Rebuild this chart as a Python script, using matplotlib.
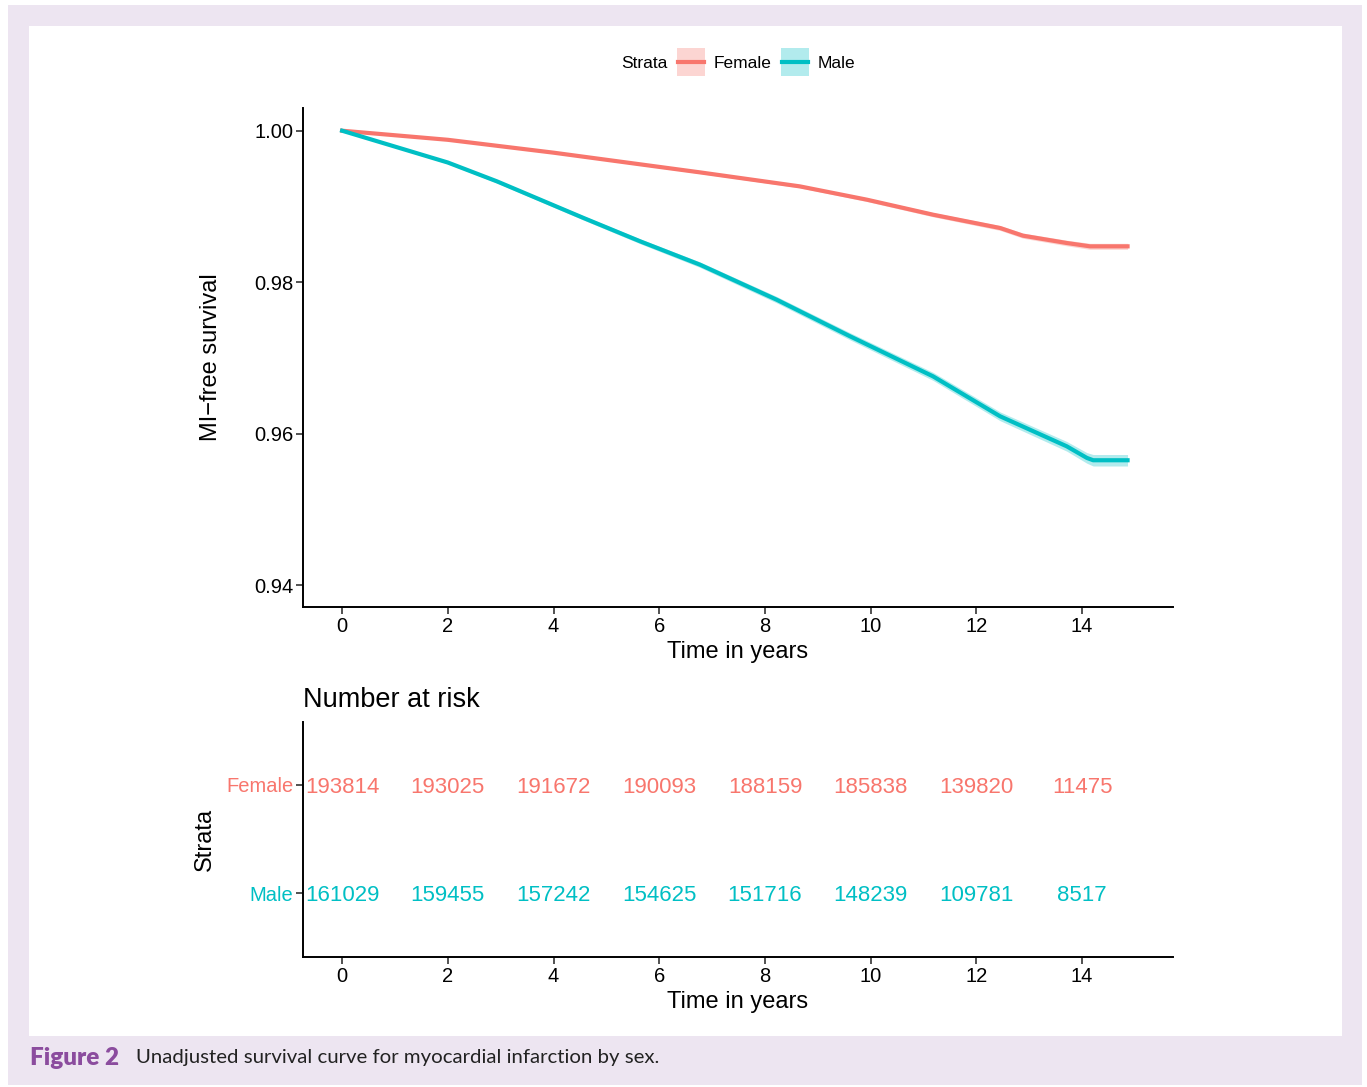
import matplotlib
matplotlib.use('Agg')
import matplotlib.pyplot as plt
from matplotlib.patches import Rectangle
from matplotlib.lines import Line2D

plt.rcParams['font.family'] = ['Liberation Sans', 'DejaVu Sans']

# survival estimates
female_t = [0, 2, 4, 6.77, 8.66, 9.93, 11.18, 12.45, 12.88, 13.71, 14.15, 14.86]
female_s = [1.0, 0.9988, 0.9971, 0.9945, 0.99265, 0.99089, 0.98891, 0.98715, 0.98614, 0.98517, 0.98473, 0.98473]
female_ci = [0.0, 0.00006, 0.0001, 0.00016, 0.0002, 0.00024, 0.00028, 0.00032, 0.00034, 0.00037, 0.0004, 0.0004]

male_t = [0, 1, 2, 2.93, 4.57, 5.64, 6.77, 8.22, 9.61, 11.18, 12.45, 13.71, 14.09, 14.21, 14.86]
male_s = [1.0, 0.9979, 0.9958, 0.99331, 0.98847, 0.98539, 0.98231, 0.97769, 0.97285, 0.96756, 0.96228, 0.95832, 0.95679, 0.95648, 0.95648]
male_ci = [0.0, 0.00012, 0.00017, 0.00022, 0.00028, 0.00032, 0.00036, 0.00042, 0.00047, 0.00053, 0.00058, 0.00064, 0.0007, 0.00076, 0.00076]

risk_times = [0, 2, 4, 6, 8, 10, 12, 14]
female_risk = [193814, 193025, 191672, 190093, 188159, 185838, 139820, 11475]
male_risk = [161029, 159455, 157242, 154625, 151716, 148239, 109781, 8517]

strata = ['Female', 'Male']

RED = '#F8766D'
TEAL = '#00BFC4'

W, H = 1367, 1087
fig = plt.figure(figsize=(W / 100, H / 100), dpi=100)
fig.patch.set_facecolor('white')

# journal frame
fig.patches.append(Rectangle((8 / W, 1 - 1085 / H), 1354 / W, 1080 / H,
                             transform=fig.transFigure, facecolor='#ede5f1',
                             edgecolor='none', zorder=-10))
fig.patches.append(Rectangle((29 / W, 1 - 1036 / H), 1313 / W, 1010 / H,
                             transform=fig.transFigure, facecolor='white',
                             edgecolor='none', zorder=-9))

# survival panel
ax = fig.add_axes([303 / W, 1 - 607 / H, 870 / W, 499 / H])
ax.patch.set_alpha(0)
for t, s, ci, c in [(female_t, female_s, female_ci, RED), (male_t, male_s, male_ci, TEAL)]:
    lo = [a - b for a, b in zip(s, ci)]
    hi = [a + b for a, b in zip(s, ci)]
    ax.fill_between(t, lo, hi, color=c, alpha=0.3, linewidth=0)
    ax.plot(t, s, color=c, lw=3)

ax.set_xlim(-0.74, 15.72)
ax.set_ylim(0.9371, 1.003)
ax.set_xticks(range(0, 15, 2))
ax.set_yticks([0.94, 0.96, 0.98, 1.00])
ax.set_yticklabels(['0.94', '0.96', '0.98', '1.00'])
ax.set_xlabel('Time in years', fontsize=17, labelpad=4)
ax.set_ylabel('MI\u2212free survival', fontsize=17, labelpad=23)
for sp in ['top', 'right']:
    ax.spines[sp].set_visible(False)
for sp in ['left', 'bottom']:
    ax.spines[sp].set_linewidth(1.4)
ax.tick_params(labelsize=14.5, length=5, width=1.2, color='#333333', pad=2)

# legend (ggplot style: title on the left, key boxes with band fill)
ly = 1 - 62 / H
fig.text(621 / W, ly, 'Strata', fontsize=12.5, va='center_baseline', ha='left')
for x0, lab, c in [(677, strata[0], RED), (781, strata[1], TEAL)]:
    fig.patches.append(Rectangle((x0 / W, 1 - 76 / H), 28 / W, 28 / H,
                                 transform=fig.transFigure, facecolor=c, alpha=0.3,
                                 edgecolor='none'))
    fig.lines.append(Line2D([(x0 + 1) / W, (x0 + 27) / W], [ly, ly],
                            transform=fig.transFigure, color=c, lw=3))
    fig.text((x0 + 37) / W, ly, lab, fontsize=12.5, va='center_baseline', ha='left')

# number at risk table
rt = fig.add_axes([303 / W, 1 - 957 / H, 870 / W, 235 / H])
rt.patch.set_alpha(0)
for i, tm in enumerate(risk_times):
    rt.text(tm, 1, str(female_risk[i]), color=RED, fontsize=16, ha='center', va='center_baseline')
    rt.text(tm, 0, str(male_risk[i]), color=TEAL, fontsize=16, ha='center', va='center_baseline')
rt.set_xlim(-0.74, 15.72)
rt.set_ylim(-0.59, 1.58)
rt.set_xticks(range(0, 15, 2))
rt.set_yticks([1, 0])
rt.set_yticklabels(strata)
for lab, c in zip(rt.get_yticklabels(), [RED, TEAL]):
    lab.set_color(c)
rt.set_xlabel('Time in years', fontsize=17, labelpad=4)
rt.set_ylabel('Strata', fontsize=17, labelpad=7)
rt.set_title('Number at risk', fontsize=19.5, loc='left', pad=11)
for sp in ['top', 'right']:
    rt.spines[sp].set_visible(False)
for sp in ['left', 'bottom']:
    rt.spines[sp].set_linewidth(1.4)
rt.tick_params(labelsize=14.5, length=5, width=1.2, color='#333333', pad=2)

# caption
fig.text(30 / W, 1 - 1058 / H, 'Figure 2', fontsize=17.5, fontweight='heavy',
         color='#8b4c9e', family=['Lato', 'DejaVu Sans'], va='center')
fig.text(136 / W, 1 - 1058 / H, 'Unadjusted survival curve for myocardial infarction by sex.',
         fontsize=14.7, color='#222222', family=['Lato', 'DejaVu Sans'], va='center')

fig.savefig('out.png', dpi=100)
